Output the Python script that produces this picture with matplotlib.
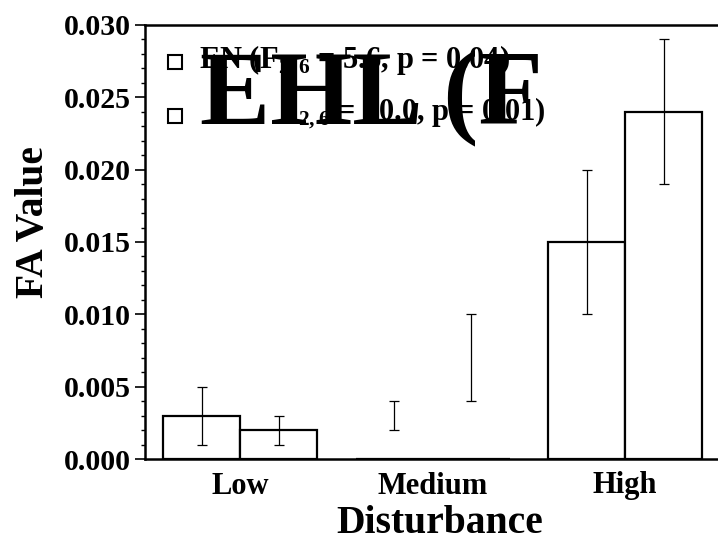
import numpy as np
import matplotlib; matplotlib.use("Agg")
import matplotlib.pyplot as plt
from matplotlib.ticker import MultipleLocator, FormatStrFormatter

plt.rcParams["font.family"] = "serif"
plt.rcParams["font.serif"] = ["Liberation Serif", "DejaVu Serif"]
plt.rcParams["font.weight"] = "bold"
plt.rcParams["axes.labelweight"] = "bold"
plt.rcParams["mathtext.fontset"] = "custom"
plt.rcParams["mathtext.rm"] = "Liberation Serif:bold"
plt.rcParams["mathtext.bf"] = "Liberation Serif:bold"

# data
groups = ["Low", "Medium", "High"]
en_mean = [0.003, 0.0, 0.015]
ehl_mean = [0.002, 0.0, 0.024]
en_lo = [0.001, 0.002, 0.010]; en_hi = [0.005, 0.004, 0.020]
ehl_lo = [0.001, 0.004, 0.019]; ehl_hi = [0.003, 0.010, 0.029]
en_label = "EN (F$_{\\mathbf{2,6}}$ = 5.6, p = 0.04)"
ehl_head = "EHL (F"
ehl_tail = "${}_{\\mathbf{2,6}}$ = 10.0, p = 0.01)"

W, H = 718, 543
P = lambda px, py: (px / W, 1 - py / H)   # pixel -> figure fraction
fig = plt.figure(figsize=(W / 100, H / 100), dpi=100)
ax = fig.add_axes([145 / W, 1 - 459 / H, 1 - 145 / W, (459 - 25) / H])

x = np.arange(len(groups)); bw = 0.4
for off, m, lo, hi in [(-bw / 2, en_mean, en_lo, en_hi), (bw / 2, ehl_mean, ehl_lo, ehl_hi)]:
    ax.bar(x + off, m, bw, color="white", edgecolor="black", lw=1.6, zorder=2)
    lo, hi = np.array(lo), np.array(hi); c = (lo + hi) / 2
    ax.errorbar(x + off, c, yerr=[c - lo, hi - c], fmt="none", ecolor="black",
                elinewidth=0.9, capsize=3.6, capthick=0.9, zorder=3)

ax.set_xlim(-0.4935, 2.483); ax.set_ylim(0, 0.030)
ax.set_xticks(x); ax.set_xticklabels(groups, fontsize=22)
ax.yaxis.set_major_locator(MultipleLocator(0.005)); ax.yaxis.set_minor_locator(MultipleLocator(0.001))
ax.yaxis.set_major_formatter(FormatStrFormatter("%.3f"))
ax.tick_params(axis="y", labelsize=21.5, direction="out", length=7.5, width=1.2, pad=2.5)
ax.tick_params(axis="y", which="minor", direction="out", length=3, width=1)
ax.tick_params(axis="x", length=0, pad=9)
for s in ["left", "bottom", "top"]: ax.spines[s].set_linewidth(1.8)
ax.spines["right"].set_visible(False)
ax.set_xlabel("Disturbance", fontsize=28.5)
ax.set_ylabel("FA Value", fontsize=28.5)
ax.xaxis.set_label_coords(0.515, -0.105)
ax.yaxis.set_label_coords(-0.163, 0.546)

# hand-built legend (second label's head is drawn oversized as in the reference)
for py in (62, 116):
    fig.lines.append(plt.Line2D([175 / W], [1 - py / H], marker="s", ms=9.5, mfc="white",
                                mec="black", mew=1.5, transform=fig.transFigure))
fig.text(*P(199, 68), en_label, fontsize=22, va="baseline", ha="left")
ghost = fig.text(*P(199, 120), ehl_head, fontsize=22, va="baseline", ha="left", alpha=0)
fig.canvas.draw()
gw = ghost.get_window_extent(fig.canvas.get_renderer()).width
fig.text(199 / W + gw / W, 1 - 120 / H, ehl_tail, fontsize=22, va="baseline", ha="left")
fig.text(*P(200, 124), ehl_head, fontsize=76, va="baseline", ha="left")

fig.savefig("out.png", dpi=100)
